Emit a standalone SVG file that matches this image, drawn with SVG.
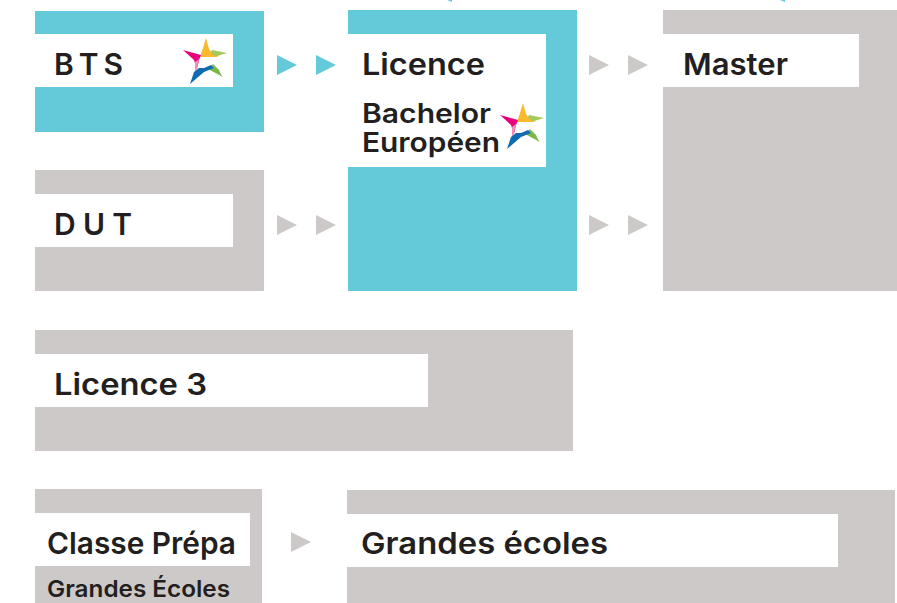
<svg xmlns="http://www.w3.org/2000/svg" width="897" height="603" viewBox="0 0 897 603">
<style>
.c{fill:#64c9d9}.g{fill:#cdc9c8}.w{fill:#fff}
text{font-family:"Inter","Liberation Sans",Arial,sans-serif;font-weight:600;fill:#231f20;font-size:30px}
.s{font-size:23px}.b{font-size:27px}
</style>
<defs>
<polygon id="a" points="0,0 20,10 0,20"/>
<g id="star">
<polygon points="212,50 227,53 214,57 208,57" fill="#a5c95a"/>
<polygon points="206,38 209,49 213,55 219,57 200,57 203,48" fill="#fdb92e"/>
<polygon points="183,50 201,55 199,60 197,69 194,60" fill="#e6007e"/>
<polygon points="199,59 197,69 195,72 195,62" fill="#ee8fb8"/>
<polygon points="212,65 222,77 219,70 213,64" fill="#7ab648"/>
<polygon points="212,65 223,77 208,69" fill="#7ab648"/>
<polygon points="190,84 194,72 199,68 204,68 211,65 214,68 204,72" fill="#0f6cb0"/>
</g>
</defs>
<g id="top-marks">
<polygon class="c" points="447,0 452,0 452,2"/>
<polygon class="c" points="780,0 785,0 785,2"/>
</g>
<g id="connectors">
<use href="#a" x="277" y="55" class="c"/>
<use href="#a" x="316" y="55" class="c"/>
<use href="#a" x="277" y="215" class="g"/>
<use href="#a" x="316" y="215" class="g"/>
<use href="#a" x="589" y="55" class="g"/>
<use href="#a" x="628" y="55" class="g"/>
<use href="#a" x="589" y="215" class="g"/>
<use href="#a" x="628" y="215" class="g"/>
<use href="#a" x="291" y="532" class="g"/>
</g>
<g id="bts">
<rect class="c" x="35" y="11" width="229" height="121"/>
<rect class="w" x="35" y="34" width="198" height="53"/>
<text x="54" y="75" textLength="69" lengthAdjust="spacing">B T S</text>
<use href="#star"/>
</g>
<g id="dut">
<rect class="g" x="35" y="170" width="229" height="121"/>
<rect class="w" x="35" y="194" width="198" height="53"/>
<text x="54" y="235" textLength="78" lengthAdjust="spacing">D U T</text>
</g>
<g id="licence">
<rect class="c" x="348" y="10" width="229" height="281"/>
<rect class="w" x="348" y="34" width="198" height="133"/>
<text x="362" y="75" textLength="123" lengthAdjust="spacingAndGlyphs">Licence</text>
<text class="b" x="362" y="123" textLength="129" lengthAdjust="spacingAndGlyphs">Bachelor</text>
<text class="b" x="362" y="152" textLength="138" lengthAdjust="spacingAndGlyphs">Européen</text>
<use href="#star" transform="translate(317 65)"/>
</g>
<g id="master">
<rect class="g" x="663" y="10" width="234" height="281"/>
<rect class="w" x="663" y="34" width="196" height="53"/>
<text x="683" y="75" textLength="105" lengthAdjust="spacingAndGlyphs">Master</text>
</g>
<g id="licence3">
<rect class="g" x="35" y="330" width="538" height="121"/>
<rect class="w" x="35" y="354" width="393" height="53"/>
<text x="54" y="395" textLength="153" lengthAdjust="spacingAndGlyphs">Licence 3</text>
</g>
<g id="classe-prepa">
<rect class="g" x="35" y="489" width="227" height="114"/>
<rect class="w" x="35" y="513" width="215" height="53"/>
<text x="47" y="554" textLength="189" lengthAdjust="spacingAndGlyphs">Classe Prépa</text>
<text class="s" x="47" y="597" textLength="183" lengthAdjust="spacingAndGlyphs">Grandes Écoles</text>
</g>
<g id="grandes-ecoles">
<rect class="g" x="347" y="490" width="548" height="113"/>
<rect class="w" x="347" y="514" width="491" height="53"/>
<text x="361" y="554" textLength="247" lengthAdjust="spacingAndGlyphs">Grandes écoles</text>
</g>
</svg>
